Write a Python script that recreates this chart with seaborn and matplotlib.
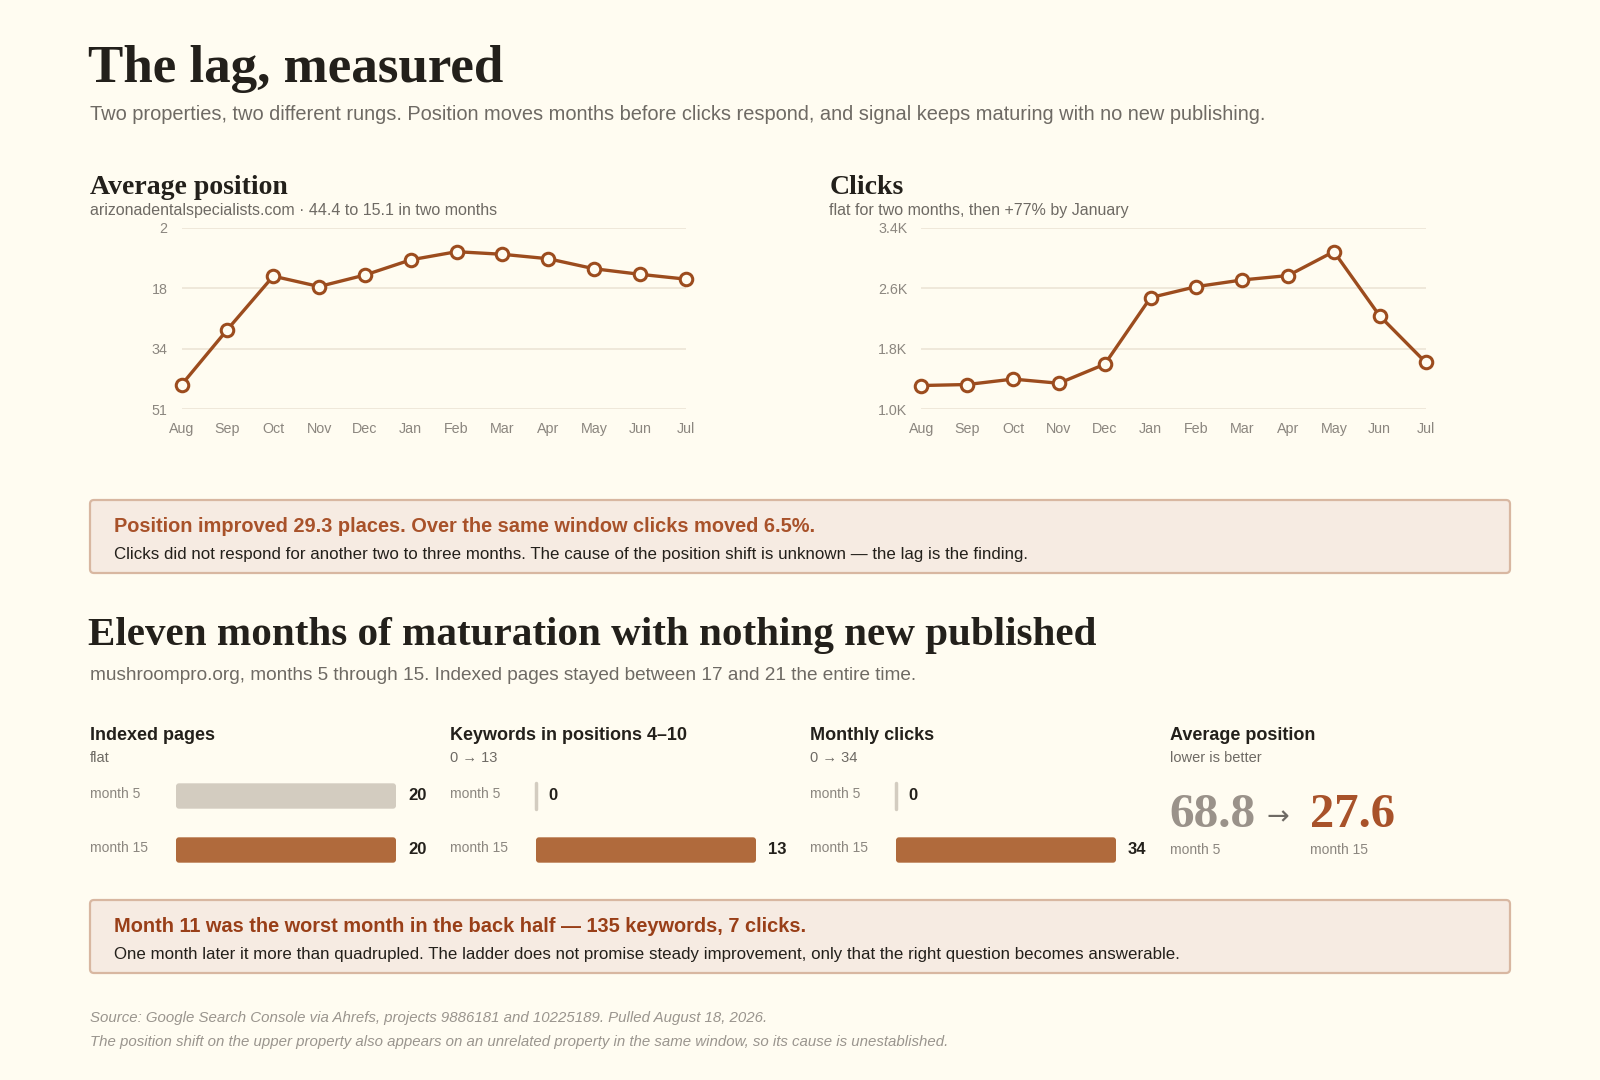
import numpy as np
import pandas as pd
import matplotlib
matplotlib.use("Agg")
import matplotlib.pyplot as plt
from matplotlib.patches import FancyBboxPatch
import seaborn as sns

# --- data ---
months = ["Aug", "Sep", "Oct", "Nov", "Dec", "Jan", "Feb", "Mar", "Apr", "May", "Jun", "Jul"]
avg_position = [44.4, 29.5, 15.1, 17.9, 14.8, 10.7, 8.5, 9.2, 10.4, 13.1, 14.6, 15.9]
clicks = [1313, 1326, 1398, 1343, 1594, 2475, 2620, 2708, 2766, 3083, 2233, 1621]

position_ticks = ["2", "18", "34", "51"]
click_ticks = [1000, 1800, 2600, 3400]
click_tick_labels = ["1.0K", "1.8K", "2.6K", "3.4K"]

bar_metrics = ["Indexed pages", "Keywords in positions 4\u201310", "Monthly clicks"]
bar_notes = ["flat", "0 \u2192 13", "0 \u2192 34"]
bar_rows = ["month 5", "month 15"]
month5_values = [20, 0, 0]
month15_values = [20, 13, 34]
position_month5 = 68.8
position_month15 = 27.6

# --- colours ---
BG = "#fffcf1"
LINE = "#9c4c1e"
COPPER = "#b06a3c"
PALE = "#d3ccc0"
GRID = "#ece5d6"
INK = "#23201b"
MUTED = "#6e6a64"
TICK = "#8b867f"
ACCENT = "#a8522a"
ACCENT2 = "#993f18"
BOX_FILL = "#f6ebe2"
BOX_EDGE = "#d8b7a1"

W, H = 1600, 1080
sns.set_theme(style="white")
plt.rcParams["font.family"] = ["Liberation Sans", "DejaVu Sans"]
SERIF = ["Liberation Serif", "DejaVu Serif"]

fig = plt.figure(figsize=(W / 100, H / 100), dpi=100, facecolor=BG)

# full-figure overlay in pixel coordinates for text and boxes
bg = fig.add_axes([0, 0, 1, 1], zorder=-1)
bg.set_xlim(0, W)
bg.set_ylim(H, 0)
bg.axis("off")
bg.set_facecolor(BG)


def rect(x0, y0, x1, y1):
    return [x0 / W, 1 - y1 / H, (x1 - x0) / W, (y1 - y0) / H]


def txt(x, y, s, size, color=INK, weight="normal", family=None, style="normal", ha="left"):
    kw = {}
    if family is not None:
        kw["family"] = family
    bg.text(x, y, s, fontsize=size, color=color, weight=weight, style=style,
            ha=ha, va="center", **kw)


# header
txt(88, 69, "The lag, measured", 38.2, INK, "bold", SERIF)
txt(90, 115, "Two properties, two different rungs. Position moves months before clicks "
    "respond, and signal keeps maturing with no new publishing.", 14.4, MUTED)

# --- top line charts ---
df = pd.DataFrame({"month": months, "idx": range(len(months)),
                   "position": avg_position, "clicks": clicks})


def line_panel(x0, x1, col, title, sub):
    txt(x0 - 92, 188, title, 20, INK, "bold", SERIF)
    txt(x0 - 92, 211, sub, 11.5, MUTED)
    ax = fig.add_axes(rect(x0, 227.6, x1, 409.2))
    ax.set_facecolor("none")
    sns.lineplot(data=df, x="idx", y=col, ax=ax, color=LINE, linewidth=2.4,
                 marker="o", markersize=9, markerfacecolor=BG,
                 markeredgecolor=LINE, markeredgewidth=2.2, clip_on=False, zorder=3)
    ax.set_xlim(0, len(months) - 1)
    ax.set_xticks(range(len(months)))
    ax.set_xticklabels(months)
    ax.set_xlabel("")
    ax.set_ylabel("")
    ax.grid(axis="y", color=GRID, linewidth=1.2)
    ax.grid(axis="x", visible=False)
    ax.tick_params(length=0, labelsize=10.3, labelcolor=TICK)
    ax.tick_params(axis="x", pad=9)
    ax.tick_params(axis="y", pad=10)
    sns.despine(ax=ax, left=True, bottom=True)
    return ax


ax1 = line_panel(181.6, 685.7, "position", "Average position",
                 "arizonadentalspecialists.com \u00b7 44.4 to 15.1 in two months")
pos_vals = [float(t) for t in position_ticks]
ax1.set_ylim(pos_vals[-1], pos_vals[0])
ax1.set_yticks(np.linspace(pos_vals[0], pos_vals[-1], len(position_ticks)))
ax1.set_yticklabels(position_ticks)

ax2 = line_panel(921.4, 1425.5, "clicks", "Clicks",
                 "flat for two months, then +77% by January")
ax2.set_ylim(click_ticks[0], click_ticks[-1])
ax2.set_yticks(click_ticks)
ax2.set_yticklabels(click_tick_labels)


# --- callout boxes ---
def callout(y0, y1, head, body, head_color):
    bg.add_patch(FancyBboxPatch((90, y0), 1420, y1 - y0,
                                boxstyle="round,pad=0,rounding_size=4",
                                facecolor=BOX_FILL, edgecolor=BOX_EDGE, linewidth=1.6))
    txt(114, y0 + 26, head, 14.4, head_color, "bold")
    txt(114, y0 + 54, body, 12.2, INK)


callout(500, 573, "Position improved 29.3 places. Over the same window clicks moved 6.5%.",
        "Clicks did not respond for another two to three months. The cause of the position "
        "shift is unknown \u2014 the lag is the finding.", ACCENT)

# --- second section ---
txt(88, 636, "Eleven months of maturation with nothing new published", 29.6, INK, "bold", SERIF)
txt(90, 676, "mushroompro.org, months 5 through 15. Indexed pages stayed between 17 and 21 "
    "the entire time.", 13.7, MUTED)

col_x = [90, 450, 810, 1170]
BAR_W_PX, BAR_H_PX = 220, 108
for i, (name, note) in enumerate(zip(bar_metrics, bar_notes)):
    cx = col_x[i]
    txt(cx, 736, name, 13, INK, "bold")
    txt(cx, 758, note, 10.5, MUTED)
    for r, lab in enumerate(bar_rows):
        txt(cx, 794 + r * 54, lab, 10, TICK)

    bdf = pd.DataFrame({"row": bar_rows, "value": [month5_values[i], month15_values[i]]})
    ax = fig.add_axes(rect(cx + 86, 769, cx + 86 + BAR_W_PX, 769 + BAR_H_PX))
    ax.set_facecolor("none")
    sns.barplot(data=bdf, x="value", y="row", hue="row", palette=[PALE, COPPER],
                orient="h", width=0.47, legend=False, ax=ax, saturation=1)
    vmax = max(bdf["value"])
    ax.set_xlim(0, vmax)
    ax.set_ylim(1.5, -0.5)

    # round the bar corners a little
    xupp = vmax / BAR_W_PX
    yupp = 2 / BAR_H_PX
    for p in list(ax.patches):
        bx, by, bw, bh = p.get_x(), p.get_y(), p.get_width(), p.get_height()
        if bw <= 0:
            continue
        fc = p.get_facecolor()
        p.remove()
        ax.add_patch(FancyBboxPatch((bx, by), bw, bh,
                                    boxstyle=f"round,pad=0,rounding_size={3 * xupp}",
                                    mutation_aspect=yupp / xupp,
                                    facecolor=fc, edgecolor="none"))

    for r, v in enumerate(bdf["value"]):
        if v == 0:
            ax.plot([0, 0], [r - 0.235, r + 0.235], color=PALE, linewidth=2.5,
                    solid_capstyle="round", clip_on=False)
        ax.annotate(str(v), xy=(v, r), xytext=(12, 0), textcoords="offset pixels",
                    ha="left", va="center", fontsize=12, weight="bold", color=INK,
                    annotation_clip=False)
    ax.axis("off")

# average position column
cx = col_x[3]
txt(cx, 736, "Average position", 13, INK, "bold")
txt(cx, 758, "lower is better", 10.5, MUTED)
txt(cx - 1, 815, f"{position_month5}", 35.5, "#9a928a", "bold", SERIF)
txt(cx + 96, 817, "\u2192", 19.5, MUTED, family=["DejaVu Sans"])
txt(cx + 140, 815, f"{position_month15}", 35, ACCENT, "bold", SERIF)
txt(cx, 850, "month 5", 10, TICK)
txt(cx + 140, 850, "month 15", 10, TICK)

callout(900, 973, "Month 11 was the worst month in the back half \u2014 135 keywords, 7 clicks.",
        "One month later it more than quadrupled. The ladder does not promise steady "
        "improvement, only that the right question becomes answerable.", ACCENT2)

# footer
txt(90, 1018, "Source: Google Search Console via Ahrefs, projects 9886181 and 10225189. "
    "Pulled August 18, 2026.", 10.8, "#9a958e", style="italic")
txt(90, 1042, "The position shift on the upper property also appears on an unrelated property "
    "in the same window, so its cause is unestablished.", 10.8, "#9a958e", style="italic")

fig.savefig("out.png", dpi=100, facecolor=BG)
